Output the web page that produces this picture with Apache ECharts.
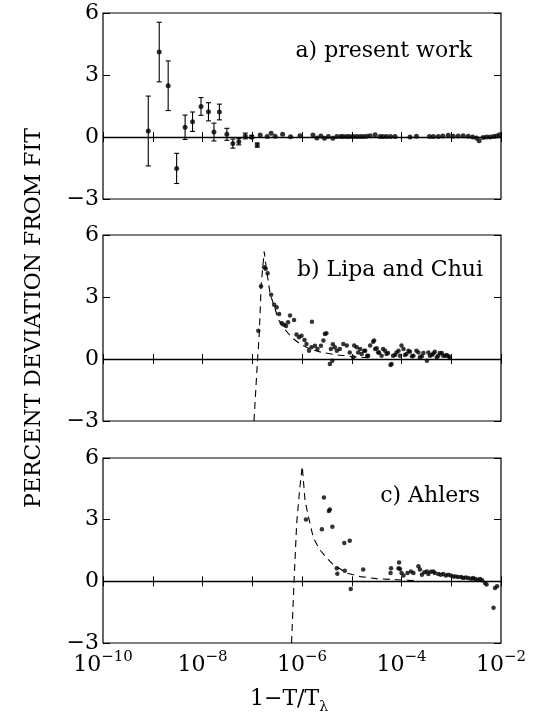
<!DOCTYPE html>
<html>
<head>
<meta charset="utf-8">
<script src="https://cdn.jsdelivr.net/npm/echarts@6/dist/echarts.min.js"></script>
<style>html,body{margin:0;padding:0;background:#fff;}#c{width:539px;height:715px;}</style>
</head>
<body>
<div id="c"></div>
<script>
// ---------- DATA (x given as log10(1 - T/T_lambda)) ----------
const panelLabels = ['a) present work', 'b) Lipa and Chui', 'c) Ahlers'];
const yTicks = [-3, 0, 3, 6];
const xLabelExponents = [-10, -8, -6, -4, -2];

// Panel a: points with error bars
const aErrX = [-9.09, -8.87, -8.69, -8.52, -8.35, -8.20, -8.03, -7.88, -7.77, -7.66, -7.51, -7.39, -7.27, -7.14, -7.01, -6.90];
const aErrY = [0.29, 4.11, 2.48, -1.52, 0.47, 0.74, 1.48, 1.22, 0.24, 1.21, 0.13, -0.32, -0.23, 0.05, 0.00, -0.39];
const aErr  = [1.69, 1.44, 1.20, 0.73, 0.59, 0.47, 0.43, 0.44, 0.43, 0.38, 0.29, 0.22, 0.15, 0.14, 0.08, 0.10];
// Panel a: remaining points
const aX = [-6.84, -6.70, -6.62, -6.54, -6.39, -6.23, -6.04, -5.78, -5.70, -5.62, -5.55, -5.47, -5.38, -5.30, -5.22, -5.17, -5.10, -5.04, -4.97, -4.90, -4.83, -4.77, -4.70, -4.63, -4.53, -4.43, -4.37, -4.30, -4.22, -4.13, -3.83, -3.70, -3.44, -3.36, -3.26, -3.17, -3.06, -2.96, -2.86, -2.76, -2.66, -2.57, -2.49, -2.44, -2.36, -2.29, -2.22, -2.15, -2.09, -2.03];
const aY = [0.10, 0.03, 0.18, 0.04, 0.13, 0.01, 0.06, 0.10, -0.05, 0.05, -0.06, 0.02, -0.06, 0.03, 0.02, 0.02, 0.02, 0.02, 0.02, 0.02, 0.02, 0.03, 0.04, 0.06, 0.11, 0.03, 0.03, 0.02, 0.02, 0.02, 0.00, 0.04, 0.03, 0.03, 0.03, 0.05, 0.08, 0.04, 0.05, 0.06, 0.04, 0.00, -0.05, -0.18, -0.02, 0.00, 0.00, 0.02, 0.05, 0.11];

// Panel b: Lipa and Chui
const bX = [-6.878, -6.824, -6.764, -6.73, -6.69, -6.62, -6.56, -6.51, -6.46, -6.41, -6.36, -6.32, -6.28, -6.24, -6.16, -5.80, -6.11, -6.06, -6.01, -5.95, -5.91, -5.86, -5.81, -5.74, -5.69, -5.62, -5.57, -5.54, -5.51, -5.44, -5.39, -5.42, -5.34,
  -5.38, -5.30, -5.24, -5.17, -5.10, -5.04, -4.97, -4.90, -4.83, -4.80, -4.73, -4.67, -4.63, -4.57, -4.53, -4.47, -4.40, -4.33, -4.27, -4.20, -4.17, -4.10, -4.03, -3.96, -3.90, -3.83, -3.76, -3.70, -3.63, -3.56, -3.49, -3.43, -3.36, -3.29, -3.23, -3.16, -3.09, -3.03,
  -4.95, -4.87, -4.75, -4.69, -4.55, -4.50, -4.45, -4.37, -4.30, -4.22, -4.13, -4.06, -4.00, -3.93, -3.86, -3.79, -3.66, -3.59, -3.46, -3.39, -3.33, -3.26, -3.19, -3.12, -3.05];
const bY = [1.37, 3.52, 4.44, 4.37, 4.15, 3.11, 2.63, 2.50, 2.18, 1.74, 1.66, 1.60, 1.78, 2.10, 1.89, 1.80, 1.18, 1.05, 1.13, 0.92, 0.73, 0.40, 0.57, 0.64, 0.48, 0.64, 0.89, 1.21, 1.24, -0.24, -0.08, 0.48, 0.57,
  0.71, 0.40, 0.48, 0.73, 0.65, 0.32, 0.08, 0.57, 0.48, 0.24, 0.40, 0.16, 0.65, 0.84, 0.48, 0.32, 0.16, 0.40, 0.29, -0.24, 0.16, 0.32, 0.16, 0.48, 0.24, 0.35, 0.16, 0.40, 0.08, 0.29, -0.08, 0.16, 0.27, 0.08, 0.29, 0.16, 0.19, 0.05,
  0.65, 0.32, 0.40, 0.16, 0.89, 0.52, 0.32, 0.48, 0.24, -0.29, 0.19, 0.40, 0.65, 0.19, 0.40, 0.13, 0.32, 0.13, 0.32, 0.19, 0.35, 0.16, 0.29, 0.16, 0.13];
const bFitX = [-6.965, -6.91, -6.86, -6.82, -6.76, -6.71, -6.64, -6.54, -6.48, -6.38, -6.21, -6.04, -5.84, -5.60, -5.34, -5.00, -4.60];
const bFitY = [-3.0, -0.7, 1.2, 3.6, 5.2, 4.27, 3.14, 2.42, 1.94, 1.53, 1.05, 0.73, 0.48, 0.32, 0.21, 0.12, 0.05];

// Panel c: Ahlers
const cX = [-5.92, -5.56, -5.46, -5.44, -5.60, -5.39, -5.15, -5.04, -5.30, -5.29, -5.14, -5.02, -4.77, -4.21, -4.22, -4.05, -4.06,
  -4.03, -4.00, -3.96, -3.88, -3.81, -3.76, -3.66, -3.63, -3.59, -3.54, -3.49, -3.46, -3.41, -3.36, -3.33, -3.26, -3.21, -3.16, -3.11, -3.06, -3.01, -2.96, -2.91, -2.86, -2.80, -2.76, -2.71, -2.66, -2.60, -2.56, -2.52, -2.47, -2.42, -2.38, -2.32, -2.29, -2.12, -2.08, -2.15];
const cY = [3.01, 4.08, 3.42, 3.50, 2.53, 2.65, 1.87, 1.97, 0.64, 0.37, 0.52, -0.37, 0.57, 0.64, 0.40, 0.92, 0.64,
  0.60, 0.40, 0.28, 0.40, 0.48, 0.40, 0.73, 0.57, 0.32, 0.44, 0.48, 0.36, 0.47, 0.48, 0.40, 0.36, 0.32, 0.36, 0.28, 0.32, 0.28, 0.24, 0.24, 0.21, 0.21, 0.16, 0.19, 0.16, 0.13, 0.16, 0.11, 0.08, 0.11, 0.05, -0.08, -0.16, -0.32, -0.24, -1.29];
const cFitX = [-6.21, -6.16, -6.107, -6.05, -5.995, -5.94, -5.87, -5.77, -5.64, -5.50, -5.37, -5.10, -4.83, -4.50, -4.10, -3.70];
const cFitY = [-3.0, 0.0, 2.82, 4.4, 5.6, 3.95, 3.13, 2.10, 1.53, 1.13, 0.81, 0.40, 0.23, 0.13, 0.08, 0.03];

// ---------- CHART ----------
const FONT = 'DejaVu Serif';
const P = e => Math.pow(10, e);
const pairs = (xs, ys) => xs.map((x, i) => [P(x), ys[i]]);

const grids = [
  { left: 103, right: 38, top: 13, height: 186 },
  { left: 103, right: 38, top: 235, height: 186 },
  { left: 103, right: 38, top: 458, height: 185 }
].map(g => Object.assign({ show: true, borderColor: '#000', borderWidth: 1.2, backgroundColor: 'transparent' }, g));

const xAxes = [], yAxes = [];
for (let i = 0; i < 3; i++) {
  ['bottom', 'top'].forEach(pos => {
    xAxes.push({
      type: 'log', logBase: 10, min: 1e-10, max: 1e-2, interval: 1, gridIndex: i, position: pos,
      axisLine: { show: false },
      axisTick: { show: true, inside: true, length: 5, lineStyle: { color: '#000', width: 1 } },
      splitLine: { show: false }, minorTick: { show: false },
      axisLabel: {
        show: i === 2 && pos === 'bottom', margin: 7, showMinLabel: true, showMaxLabel: true,
        formatter: v => {
          const e = Math.round(Math.log10(v));
          return xLabelExponents.indexOf(e) >= 0 ? '{b|10}{s|−' + (-e) + '}' : '';
        },
        rich: {
          b: { fontFamily: FONT, fontSize: 22, color: '#000', lineHeight: 26, verticalAlign: 'bottom' },
          s: { fontFamily: FONT, fontSize: 15, color: '#000', lineHeight: 26, verticalAlign: 'top' }
        }
      }
    });
  });
  ['left', 'right'].forEach(pos => {
    yAxes.push({
      type: 'value', min: yTicks[0], max: yTicks[yTicks.length - 1], interval: 3, gridIndex: i, position: pos,
      axisLine: { show: false },
      axisTick: { show: true, inside: true, length: 7, lineStyle: { color: '#000', width: 1 } },
      splitLine: { show: false },
      axisLabel: {
        show: pos === 'left', margin: 4, fontFamily: FONT, fontSize: 22, color: '#000',
        formatter: v => (v < 0 ? '−' + (-v) : String(v))
      }
    });
  });
}

const zeroLine = {
  silent: true, symbol: 'none', label: { show: false }, animation: false,
  lineStyle: { color: '#000', type: 'solid', width: 1.3 },
  data: [{ yAxis: 0 }]
};
const dot = { color: '#000' };

const series = [
  {
    type: 'custom', xAxisIndex: 0, yAxisIndex: 0,
    data: aErrX.map((x, i) => [P(x), aErrY[i], aErrY[i] - aErr[i], aErrY[i] + aErr[i]]),
    encode: { x: 0, y: [1, 2, 3] },
    renderItem: (params, api) => {
      const x = api.value(0);
      const lo = api.coord([x, api.value(2)]);
      const hi = api.coord([x, api.value(3)]);
      const w = 2.5;
      const st = { stroke: '#000', lineWidth: 1.1 };
      return {
        type: 'group', children: [
          { type: 'line', shape: { x1: lo[0], y1: lo[1], x2: hi[0], y2: hi[1] }, style: st },
          { type: 'line', shape: { x1: lo[0] - w, y1: lo[1], x2: lo[0] + w, y2: lo[1] }, style: st },
          { type: 'line', shape: { x1: hi[0] - w, y1: hi[1], x2: hi[0] + w, y2: hi[1] }, style: st }
        ]
      };
    }
  },
  { type: 'scatter', xAxisIndex: 0, yAxisIndex: 0, symbolSize: 5, itemStyle: dot,
    data: pairs(aErrX, aErrY).concat(pairs(aX, aY)), markLine: zeroLine },
  { type: 'line', xAxisIndex: 2, yAxisIndex: 2, showSymbol: false, symbol: 'none', clip: true,
    lineStyle: { color: '#000', width: 1.1, type: [7, 5] }, data: pairs(bFitX, bFitY) },
  { type: 'scatter', xAxisIndex: 2, yAxisIndex: 2, symbolSize: 4.5, itemStyle: dot,
    data: pairs(bX, bY), markLine: zeroLine },
  { type: 'line', xAxisIndex: 4, yAxisIndex: 4, showSymbol: false, symbol: 'none', clip: true,
    lineStyle: { color: '#000', width: 1.1, type: [7, 5] }, data: pairs(cFitX, cFitY) },
  { type: 'scatter', xAxisIndex: 4, yAxisIndex: 4, symbolSize: 4.5, itemStyle: dot,
    data: pairs(cX, cY), markLine: zeroLine }
];

const labelPos = [{ right: 67, top: 40 }, { right: 56, top: 259 }, { right: 59, top: 485 }];
const titles = panelLabels.map((t, i) => Object.assign({
  text: t, padding: 0,
  textStyle: { fontFamily: FONT, fontSize: 22, fontWeight: 'normal', color: '#000' }
}, labelPos[i]));

const chart = echarts.init(document.getElementById('c'), null, { renderer: 'canvas' });
chart.setOption({
  animation: false,
  backgroundColor: '#fff',
  title: titles,
  grid: grids,
  xAxis: xAxes,
  yAxis: yAxes,
  series: series,
  graphic: [
    { type: 'text', x: 34, y: 318, rotation: Math.PI / 2,
      style: { text: 'PERCENT DEVIATION FROM FIT', font: '22px "DejaVu Serif"', fill: '#000', align: 'center', verticalAlign: 'middle' } },
    { type: 'text', left: 250, top: 688,
      style: { text: '{m|1−T/T}{s|λ}', fill: '#000',
        rich: { m: { fontFamily: FONT, fontSize: 22, lineHeight: 26, verticalAlign: 'top', fill: '#000' },
                s: { fontFamily: FONT, fontSize: 14, lineHeight: 26, verticalAlign: 'bottom', fill: '#000' } } } }
  ]
});
</script>
</body>
</html>
